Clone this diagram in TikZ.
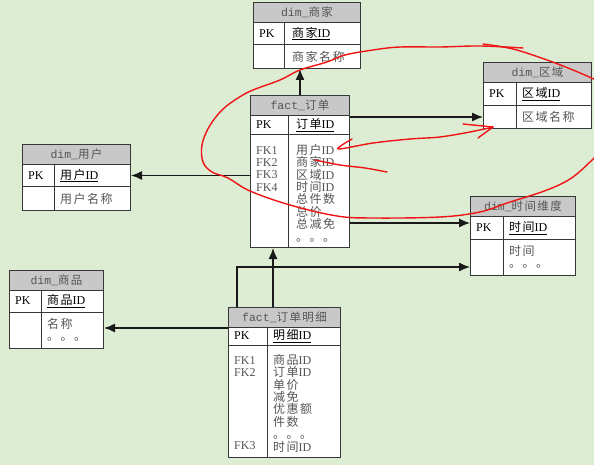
\documentclass[tikz,border=0pt]{standalone}
\usepackage{fontspec}
\setmainfont{Liberation Serif}
\setmonofont{Liberation Mono}
\newfontfamily\cjk[LetterSpace=12]{Noto Sans CJK SC}
\usetikzlibrary{arrows.meta}
\usetikzlibrary{calc}
\definecolor{bgc}{RGB}{221,237,212}
\definecolor{headc}{RGB}{200,200,200}
\definecolor{linec}{RGB}{55,55,55}
\definecolor{txtc}{RGB}{85,85,85}
\definecolor{penc}{RGB}{240,20,20}

\begin{document}
\begin{tikzpicture}[x=1pt,y=-1pt,>={Latex[length=11pt,width=9pt]},
    tbl/.style={rectangle,draw=linec,fill=white,line width=1pt,anchor=north west,inner sep=0pt},
    hd/.style={tbl,fill=headc,minimum height=20pt,text=txtc,font=\fontsize{11.5}{12.4}\selectfont},
    rule/.style={draw=linec,line width=1pt},
    cell/.style={anchor=west,inner sep=0pt,font=\fontsize{12}{12.4}\selectfont},
    lst/.style={anchor=north west,inner sep=0pt,align=left,font=\fontsize{12}{12.4}\selectfont},
    conn/.style={draw=black!90,line width=1.3pt},
    pen/.style={draw=penc,line width=1.4pt,line cap=round,line join=round}]
        %
        \useasboundingbox (0,0) rectangle (594,465);
        \fill[bgc] (0,0) rectangle (594,465);
        %
        % dim_商家
        \node[tbl,minimum width=107pt,minimum height=66pt] (sj) at (253,2) {};
        \node[hd,minimum width=107pt] (sj-h) at (sj.north west) {\ttfamily dim\_{\cjk 商家}};
        \draw[rule] (253,45) -- (360,45);
        \draw[rule] (284,22) -- (284,68);
        \node[cell] (sj-pk) at (259,33.5) {PK};
        \node[cell] (sj-id) at (292,33.5) {\underline{{\cjk 商家}ID}};
        \node[cell,text=txtc] (sj-at) at (292,56.5) {\cjk 商家名称};
        %
        % fact_订单
        \node[tbl,minimum width=99pt,minimum height=152pt] (dd) at (250,95) {};
        \node[hd,minimum width=99pt] (dd-h) at (dd.north west) {\ttfamily fact\_{\cjk 订单}};
        \draw[rule] (250,135) -- (349,135);
        \draw[rule] (288,115) -- (288,247);
        \node[cell] (dd-pk) at (256,125) {PK};
        \node[cell] (dd-id) at (296,125) {\underline{{\cjk 订单}ID}};
        \node[lst,text=txtc] (dd-fk) at (256,144) {\rule{0pt}{10pt}FK1\\FK2\\FK3\\FK4};
        \node[lst,text=txtc] (dd-at) at (296,144) {\rule{0pt}{10pt}{\cjk 用户}ID\\{\cjk 商家}ID\\{\cjk 区域}ID\\{\cjk 时间}ID\\{\cjk 总件数}\\{\cjk 总价}\\{\cjk 总减免}\\{\cjk 。。。}};
        %
        % dim_区域
        \node[tbl,minimum width=108pt,minimum height=66pt] (qy) at (483,62) {};
        \node[hd,minimum width=108pt] (qy-h) at (qy.north west) {\ttfamily dim\_{\cjk 区域}};
        \draw[rule] (483,106) -- (591,106);
        \draw[rule] (516,82) -- (516,128);
        \node[cell] (qy-pk) at (489,94) {PK};
        \node[cell] (qy-id) at (522,94) {\underline{{\cjk 区域}ID}};
        \node[cell,text=txtc] (qy-at) at (522,117) {\cjk 区域名称};
        %
        % dim_时间维度
        \node[tbl,minimum width=105pt,minimum height=79pt] (tm) at (470,196) {};
        \node[hd,minimum width=105pt] (tm-h) at (tm.north west) {\ttfamily dim\_{\cjk 时间维度}};
        \draw[rule] (470,239) -- (575,239);
        \draw[rule] (503,216) -- (503,275);
        \node[cell] (tm-pk) at (476,228) {PK};
        \node[cell] (tm-id) at (509,228) {\underline{{\cjk 时间}ID}};
        \node[lst,text=txtc] (tm-at) at (509,245) {\rule{0pt}{10pt}{\cjk 时间}\\{\cjk 。。。}};
        %
        % dim_用户
        \node[tbl,minimum width=108pt,minimum height=66pt] (yh) at (22,144) {};
        \node[hd,minimum width=108pt] (yh-h) at (yh.north west) {\ttfamily dim\_{\cjk 用户}};
        \draw[rule] (22,187) -- (130,187);
        \draw[rule] (54,164) -- (54,210);
        \node[cell] (yh-pk) at (28,175.5) {PK};
        \node[cell] (yh-id) at (60,175.5) {\underline{{\cjk 用户}ID}};
        \node[cell,text=txtc] (yh-at) at (60,199) {\cjk 用户名称};
        %
        % dim_商品
        \node[tbl,minimum width=94pt,minimum height=78pt] (sp) at (9,270) {};
        \node[hd,minimum width=94pt] (sp-h) at (sp.north west) {\ttfamily dim\_{\cjk 商品}};
        \draw[rule] (9,312) -- (103,312);
        \draw[rule] (41,290) -- (41,348);
        \node[cell] (sp-pk) at (15,301) {PK};
        \node[cell] (sp-id) at (47,301) {\underline{{\cjk 商品}ID}};
        \node[lst,text=txtc] (sp-at) at (47,318) {\rule{0pt}{10pt}{\cjk 名称}\\{\cjk 。。。}};
        %
        % fact_订单明细
        \node[tbl,minimum width=112pt,minimum height=150pt] (mx) at (228,307) {};
        \node[hd,minimum width=112pt] (mx-h) at (mx.north west) {\ttfamily fact\_{\cjk 订单明细}};
        \draw[rule] (228,345) -- (340,345);
        \draw[rule] (267,327) -- (267,457);
        \node[cell] (mx-pk) at (234,336) {PK};
        \node[cell] (mx-id) at (273,336) {\underline{{\cjk 明细}ID}};
        \node[lst,text=txtc] (mx-fk) at (234,354) {\rule{0pt}{10pt}FK1\\FK2};
        \node[cell,text=txtc] (mx-fk3) at (234,446) {FK3};
        \node[lst,text=txtc] (mx-at) at (273,354) {\rule{0pt}{10pt}{\cjk 商品}ID\\{\cjk 订单}ID\\{\cjk 单价}\\{\cjk 减免}\\{\cjk 优惠额}\\{\cjk 件数}\\{\cjk 。。。}\\{\cjk 时间}ID};
        %
        \draw[conn,->] (dd.north) -- (dd.north |- sj.south);
        \draw[conn,->] (dd.east |- qy-at) -- (qy.west |- qy-at);
        \draw[conn,->] (dd.west |- yh-id) -- (yh.east |- yh-id);
        \draw[conn,->] ($(tm-h.south west -| dd.east)+(0,6)$) -- ($(tm-h.south west)+(0,6)$);
        \draw[conn,->] (mx-id.west |- mx.north) -- (mx-id.west |- dd.south);
        \draw[conn,->] ($(mx.north west)+(9,0)$) |- ($(tm.south west)+(0,-9)$);
        \draw[conn,->] (mx-h.south west) -- (mx-h.south west -| sp.east);
        %
        % red pen marks
        \draw[pen] plot[smooth,tension=0.6] coordinates {(523,48) (480,46) (440,47) (400,47) (373,50) (345,55) (327,62) (300,70) (280,80) (253,90) (238,98) (222,110) (209,127) (202,145) (203,162) (212,172) (228,178) (250,191) (290,205) (337,216) (373,218) (440,217) (480,212) (507,203) (547,190) (573,177) (596,156)};
        \draw[pen] plot[smooth,tension=0.6] coordinates {(483,44) (513,49) (547,60) (573,70) (596,80)};
        \draw[pen] plot[smooth,tension=0.6] coordinates {(315,160) (340,165) (365,168) (387,172)};
        \draw[pen] plot[smooth,tension=0.5] coordinates {(352,139) (338,149) (373,143) (410,139) (440,137) (470,132) (493,127)};
        \draw[pen] (463,124) -- (493,127) -- (478,138);
        %
    \end{tikzpicture}
\end{document}
